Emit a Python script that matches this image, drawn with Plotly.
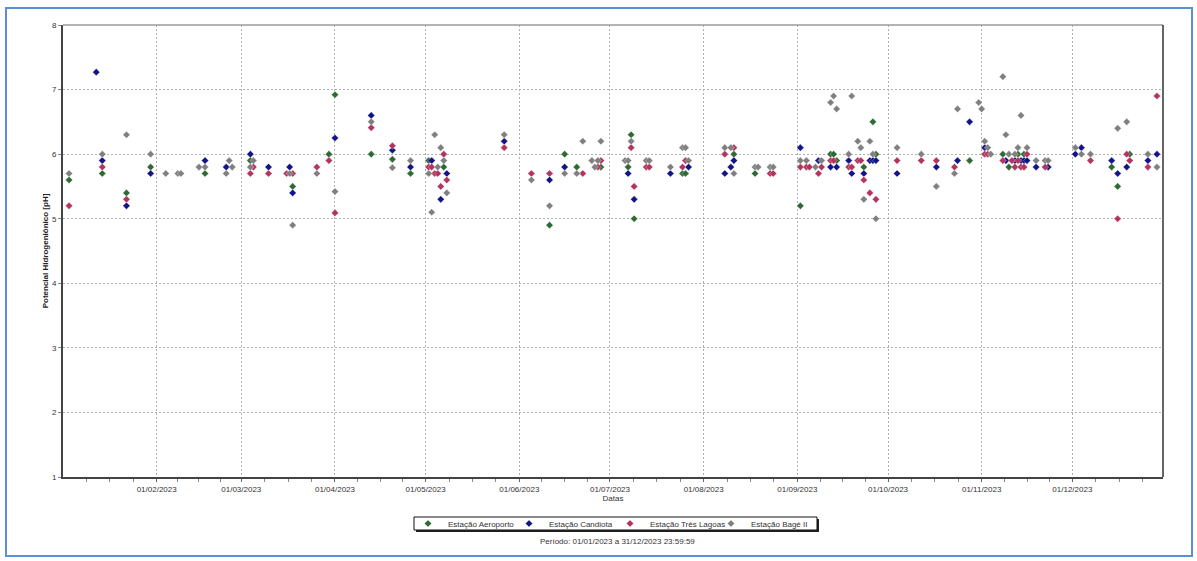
import plotly.graph_objects as go
import pandas as pd

# ---------------- data ----------------
series_names = ["Estação Aeroporto", "Estação Candiota", "Estação Três Lagoas", "Estação Bagé II"]
series_colors = ["#2e6b34", "#14148a", "#b3345f", "#808080"]

aeroporto_dates = ["2023-01-03", "2023-01-14", "2023-01-22", "2023-01-30", "2023-02-17", "2023-03-04",
                   "2023-03-18", "2023-03-30", "2023-04-01", "2023-04-13", "2023-04-20", "2023-04-26",
                   "2023-05-02", "2023-05-07", "2023-06-11", "2023-06-16", "2023-06-20", "2023-06-28",
                   "2023-07-07", "2023-07-08", "2023-07-09", "2023-07-25", "2023-07-26", "2023-08-11",
                   "2023-08-18", "2023-09-02", "2023-09-12", "2023-09-13", "2023-09-14", "2023-09-23",
                   "2023-09-26", "2023-09-27", "2023-10-28", "2023-11-08", "2023-11-10", "2023-11-13",
                   "2023-11-15", "2023-12-14", "2023-12-16", "2023-12-20"]
aeroporto_ph = [5.6, 5.7, 5.4, 5.8, 5.7, 5.9,
                5.5, 6.0, 6.92, 6.0, 5.92, 5.7,
                5.9, 5.8, 4.9, 6.0, 5.8, 5.8,
                5.8, 6.3, 5.0, 5.7, 5.7, 6.0,
                5.7, 5.2, 6.0, 6.0, 5.9, 5.8,
                6.5, 6.0, 5.9, 6.0, 5.8, 6.0,
                6.0, 5.8, 5.5, 6.0]

candiota_dates = ["2023-01-12", "2023-01-14", "2023-01-22", "2023-01-30", "2023-02-17", "2023-02-24",
                  "2023-03-04", "2023-03-10", "2023-03-17", "2023-03-18", "2023-04-01", "2023-04-13",
                  "2023-04-20", "2023-04-26", "2023-05-03", "2023-05-06", "2023-05-08", "2023-05-27",
                  "2023-06-11", "2023-06-16", "2023-07-07", "2023-07-09", "2023-07-21", "2023-07-27",
                  "2023-08-08", "2023-08-10", "2023-08-11", "2023-09-02", "2023-09-08", "2023-09-12",
                  "2023-09-14", "2023-09-18", "2023-09-19", "2023-09-23", "2023-09-25", "2023-09-26",
                  "2023-09-27", "2023-10-04", "2023-10-17", "2023-10-24", "2023-10-28", "2023-11-02",
                  "2023-11-09", "2023-11-12", "2023-11-14", "2023-11-15", "2023-11-16", "2023-11-19",
                  "2023-11-23", "2023-12-02", "2023-12-04", "2023-12-14", "2023-12-16", "2023-12-19",
                  "2023-12-26", "2023-12-29"]
candiota_ph = [7.27, 5.9, 5.2, 5.7, 5.9, 5.8,
               6.0, 5.8, 5.8, 5.4, 6.25, 6.6,
               6.06, 5.8, 5.9, 5.3, 5.7, 6.2,
               5.6, 5.8, 5.7, 5.3, 5.7, 5.8,
               5.7, 5.8, 5.9, 6.1, 5.9, 5.8,
               5.8, 5.9, 5.7, 5.7, 5.9, 5.9,
               5.9, 5.7, 5.8, 5.9, 6.5, 6.1,
               5.9, 5.9, 5.9, 5.9, 5.9, 5.8,
               5.8, 6.0, 6.1, 5.9, 5.7, 5.8,
               5.9, 6.0]

tres_lagoas_dates = ["2023-01-03", "2023-01-14", "2023-01-22", "2023-03-04", "2023-03-05", "2023-03-10",
                     "2023-03-16", "2023-03-18", "2023-03-26", "2023-03-30", "2023-04-01", "2023-04-13",
                     "2023-04-20", "2023-05-02", "2023-05-03", "2023-05-04", "2023-05-05", "2023-05-06",
                     "2023-05-07", "2023-05-08", "2023-05-27", "2023-06-05", "2023-06-11", "2023-06-22",
                     "2023-06-27", "2023-06-28", "2023-07-08", "2023-07-09", "2023-07-13", "2023-07-14",
                     "2023-07-25", "2023-07-26", "2023-08-08", "2023-08-11", "2023-08-23", "2023-08-24",
                     "2023-09-02", "2023-09-04", "2023-09-05", "2023-09-08", "2023-09-09", "2023-09-12",
                     "2023-09-13", "2023-09-18", "2023-09-19", "2023-09-21", "2023-09-22", "2023-09-23",
                     "2023-09-25", "2023-09-27", "2023-10-04", "2023-10-12", "2023-10-17", "2023-10-23",
                     "2023-11-02", "2023-11-03", "2023-11-08", "2023-11-11", "2023-11-12", "2023-11-13",
                     "2023-11-14", "2023-11-15", "2023-11-16", "2023-11-22", "2023-12-07", "2023-12-16",
                     "2023-12-19", "2023-12-20", "2023-12-26", "2023-12-29"]
tres_lagoas_ph = [5.2, 5.8, 5.3, 5.7, 5.8, 5.7,
                  5.7, 5.7, 5.8, 5.9, 5.09, 6.41,
                  6.13, 5.8, 5.8, 5.7, 5.7, 5.5,
                  6.0, 5.6, 6.1, 5.7, 5.7, 5.7,
                  5.8, 5.9, 6.1, 5.5, 5.8, 5.8,
                  5.8, 5.9, 6.0, 6.1, 5.7, 5.7,
                  5.8, 5.8, 5.8, 5.7, 5.8, 5.9,
                  5.9, 5.8, 5.8, 5.9, 5.9, 5.6,
                  5.4, 5.3, 5.9, 5.9, 5.9, 5.8,
                  6.0, 6.0, 5.9, 5.9, 5.8, 5.9,
                  5.8, 5.8, 6.0, 5.8, 5.9, 5.0,
                  6.0, 5.9, 5.8, 6.9]

bage_dates = ["2023-01-03", "2023-01-14", "2023-01-22", "2023-01-30", "2023-02-04", "2023-02-08",
              "2023-02-09", "2023-02-15", "2023-02-17", "2023-02-24", "2023-02-25", "2023-02-26",
              "2023-03-04", "2023-03-05", "2023-03-17", "2023-03-18", "2023-03-26", "2023-04-01",
              "2023-04-13", "2023-04-20", "2023-04-26", "2023-05-02", "2023-05-03", "2023-05-04",
              "2023-05-05", "2023-05-06", "2023-05-07", "2023-05-08", "2023-05-27", "2023-06-05",
              "2023-06-11", "2023-06-16", "2023-06-20", "2023-06-22", "2023-06-25", "2023-06-26",
              "2023-06-27", "2023-06-28", "2023-07-06", "2023-07-07", "2023-07-08", "2023-07-13",
              "2023-07-14", "2023-07-21", "2023-07-25", "2023-07-26", "2023-07-27", "2023-08-08",
              "2023-08-10", "2023-08-11", "2023-08-18", "2023-08-19", "2023-08-23", "2023-08-24",
              "2023-09-02", "2023-09-04", "2023-09-07", "2023-09-09", "2023-09-12", "2023-09-13",
              "2023-09-14", "2023-09-18", "2023-09-19", "2023-09-21", "2023-09-22", "2023-09-23",
              "2023-09-25", "2023-09-26", "2023-09-27", "2023-10-04", "2023-10-12", "2023-10-17",
              "2023-10-23", "2023-10-24", "2023-10-31", "2023-11-01", "2023-11-02", "2023-11-03",
              "2023-11-04", "2023-11-08", "2023-11-09", "2023-11-10", "2023-11-12", "2023-11-13",
              "2023-11-14", "2023-11-16", "2023-11-19", "2023-11-22", "2023-11-23", "2023-12-02",
              "2023-12-04", "2023-12-07", "2023-12-16", "2023-12-19", "2023-12-26", "2023-12-29"]
bage_ph = [5.7, 6.0, 6.3, 6.0, 5.7, 5.7,
           5.7, 5.8, 5.8, 5.7, 5.9, 5.8,
           5.8, 5.9, 5.7, 4.9, 5.7, 5.42,
           6.5, 5.79, 5.9, 5.7, 5.1, 6.3,
           5.8, 6.1, 5.9, 5.4, 6.3, 5.6,
           5.2, 5.7, 5.7, 6.2, 5.9, 5.8,
           5.9, 6.2, 5.9, 5.9, 6.2, 5.9,
           5.9, 5.8, 6.1, 6.1, 5.9, 6.1,
           6.1, 5.7, 5.8, 5.8, 5.8, 5.8,
           5.9, 5.9, 5.8, 5.9, 6.8, 6.9,
           6.7, 6.0, 6.9, 6.2, 6.1, 5.3,
           6.2, 6.0, 5.0, 6.1, 6.0, 5.5,
           5.7, 6.7, 6.8, 6.7, 6.2, 6.1,
           6.0, 7.2, 6.3, 6.0, 6.0, 6.1,
           6.6, 6.1, 5.9, 5.9, 5.9, 6.1,
           6.0, 6.0, 6.4, 6.5, 6.0, 5.8]

month_tick_dates = ["2023-02-01", "2023-03-01", "2023-04-01", "2023-05-01", "2023-06-01", "2023-07-01",
                    "2023-08-01", "2023-09-01", "2023-10-01", "2023-11-01", "2023-12-01"]
month_tick_labels = ["01/02/2023", "01/03/2023", "01/04/2023", "01/05/2023", "01/06/2023", "01/07/2023",
                     "01/08/2023", "01/09/2023", "01/10/2023", "01/11/2023", "01/12/2023"]
y_ticks = [1, 2, 3, 4, 5, 6, 7, 8]

x_title = "Datas"
y_title = "Potencial Hidrogeniônico [pH]"
period_text = "Período: 01/01/2023 a 31/12/2023 23:59:59"

# ---------------- figure ----------------
FONT = "Liberation Sans, Arial, sans-serif"
W, H = 1197, 561
L, R, T, B = 63, 34, 25, 84
PW, PH = W - L - R, H - T - B
GRID_DASH = "2px,2px"


def px_x(p):  # page pixel -> paper x
    return (p - L) / PW


def px_y(p):  # page pixel -> paper y
    return (H - B - p) / PH


fig = go.Figure()

all_dates = [aeroporto_dates, candiota_dates, tres_lagoas_dates, bage_dates]
all_vals = [aeroporto_ph, candiota_ph, tres_lagoas_ph, bage_ph]
for name, color, d, v in zip(series_names, series_colors, all_dates, all_vals):
    fig.add_trace(go.Scatter(
        x=pd.to_datetime(d), y=v, mode="markers", name=name,
        marker=dict(symbol="diamond", size=5.5, color=color,
                    line=dict(width=0.6, color="rgba(255,255,255,0.5)")),
    ))

# minor ticks: quarters of each month (axis decoration)
month_starts = pd.date_range("2023-01-01", "2024-01-01", freq="MS")
minor_vals = []
for a, b in zip(month_starts[:-1], month_starts[1:]):
    for k in (1, 2, 3):
        minor_vals.append(a + (b - a) * k / 4)

# legend box (drawn as shapes, legend itself transparent)
lg_x0, lg_x1, lg_y0, lg_y1 = 414, 817, 517, 530

fig.update_layout(
    width=W, height=H,
    margin=dict(l=L, r=R, t=T, b=B),
    paper_bgcolor="white", plot_bgcolor="white",
    font=dict(family=FONT, size=8, color="#333"),
    showlegend=True,
    legend=dict(
        orientation="h", x=px_x(408), xanchor="left", y=px_y(523.5), yanchor="middle",
        borderwidth=0, bgcolor="rgba(0,0,0,0)",
        font=dict(family=FONT, size=8, color="#333"),
        itemwidth=30, entrywidth=56, entrywidthmode="pixels",
    ),
    xaxis=dict(
        type="date",
        range=["2023-01-01", "2023-12-31"],
        tickmode="array", tickvals=pd.to_datetime(month_tick_dates), ticktext=month_tick_labels,
        showgrid=True, gridcolor="#b0b0b0", griddash=GRID_DASH, gridwidth=1,
        showline=True, linecolor="#444", linewidth=2,
        ticks="outside", ticklen=3, tickcolor="#666", tickwidth=1,
        tickfont=dict(family=FONT, size=8, color="#333"),
        minor=dict(tickmode="array", tickvals=minor_vals, ticks="outside", ticklen=3,
                   tickcolor="#888", showgrid=False),
        title=dict(text=x_title, standoff=2, font=dict(family=FONT, size=8, color="#333")),
        zeroline=False,
    ),
    yaxis=dict(
        range=[1, 8],
        tickmode="array", tickvals=y_ticks,
        showgrid=True, gridcolor="#b0b0b0", griddash=GRID_DASH, gridwidth=1,
        showline=True, linecolor="#444", linewidth=2,
        ticks="outside", ticklen=3, tickcolor="#888",
        tickfont=dict(family=FONT, size=8, color="#333"),
        title=dict(text="<b>" + y_title + "</b>", standoff=2,
                   font=dict(family=FONT, size=8, color="#222")),
        zeroline=False,
    ),
    shapes=[
        # top and right frame lines
        dict(type="line", xref="paper", yref="paper", x0=0, x1=1, y0=1, y1=1,
             line=dict(color="#9a9a9a", width=1.5)),
        dict(type="line", xref="paper", yref="paper", x0=1, x1=1, y0=0, y1=1,
             line=dict(color="#333", width=1.5)),
        # outer blue border of the picture
        dict(type="rect", xref="paper", yref="paper",
             x0=px_x(6), x1=px_x(1192), y0=px_y(556), y1=px_y(8),
             line=dict(color="#5b8fd6", width=2), layer="below"),
        # legend shadow and box
        dict(type="rect", xref="paper", yref="paper",
             x0=px_x(lg_x0 + 2), x1=px_x(lg_x1 + 2), y0=px_y(lg_y1 + 2), y1=px_y(lg_y0 + 2),
             line=dict(width=0), fillcolor="#222", layer="above"),
        dict(type="rect", xref="paper", yref="paper",
             x0=px_x(lg_x0), x1=px_x(lg_x1), y0=px_y(lg_y1), y1=px_y(lg_y0),
             line=dict(color="#111", width=1), fillcolor="white", layer="above"),
    ],
    annotations=[
        dict(text=period_text, xref="paper", yref="paper", x=px_x(617), y=px_y(541),
             xanchor="center", yanchor="middle", showarrow=False,
             font=dict(family=FONT, size=8, color="#333")),
    ],
)

fig.write_html("out.html", config={"displayModeBar": False},
               post_script="document.body.style.margin='0';")
